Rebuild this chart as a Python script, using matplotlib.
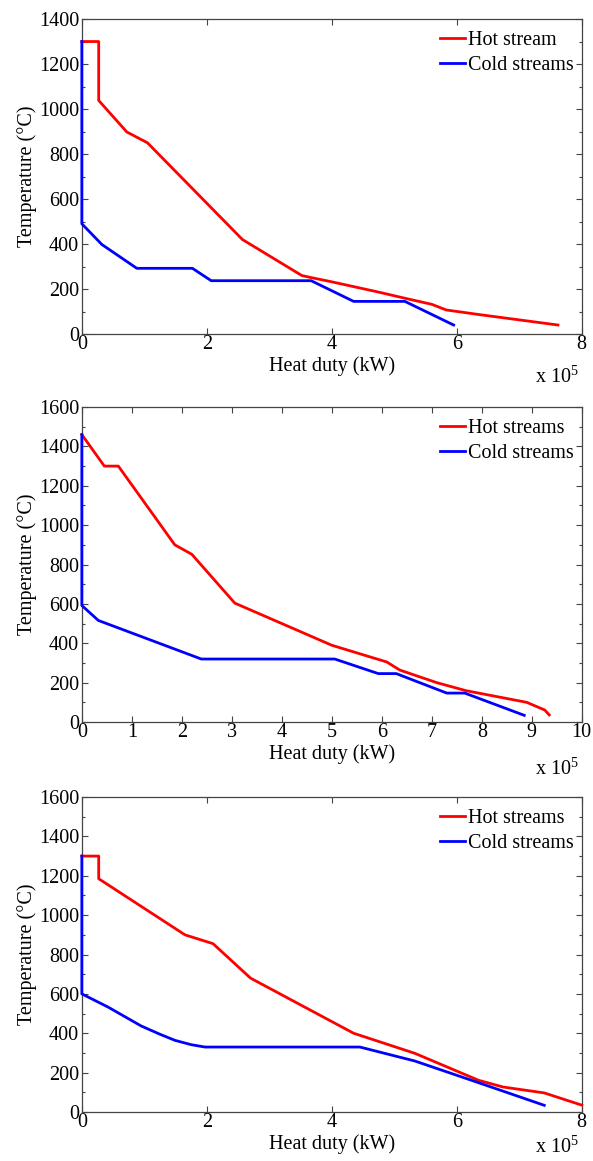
import matplotlib
matplotlib.use('Agg')
import matplotlib.pyplot as plt

plt.rcParams['font.family'] = ['Liberation Serif', 'DejaVu Serif']
plt.rcParams['mathtext.fontset'] = 'custom'
plt.rcParams['mathtext.rm'] = 'Liberation Serif'
plt.rcParams['mathtext.it'] = 'Liberation Serif'

# heat duty in units of 1e5 kW, temperature in degC
hot1_q = [0, 0.27, 0.27, 0.72, 1.05, 2.57, 3.52, 3.65, 4.0, 4.77, 5.17, 5.6, 5.83, 6.37, 7.62]
hot1_t = [1300, 1300, 1038, 898, 850, 420, 260, 252, 232, 185, 159, 132, 107, 86, 40]
cold1_q = [0, 0, 0.32, 0.88, 1.77, 2.07, 3.67, 4.35, 5.17, 5.95]
cold1_t = [1300, 490, 398, 292, 292, 237, 237, 145, 145, 40]

hot2_q = [0, 0.45, 0.73, 1.86, 2.2, 3.06, 5.0, 6.1, 6.36, 7.1, 7.69, 8.9, 9.26, 9.35]
hot2_t = [1460, 1300, 1300, 900, 852, 604, 390, 305, 264, 200, 159, 100, 61, 36]
cold2_q = [0, 0, 0.33, 2.39, 5.06, 5.93, 6.29, 7.3, 7.66, 8.85]
cold2_t = [1460, 592, 516, 320, 320, 246, 246, 147, 147, 34]

hot3_q = [0, 0.27, 0.27, 1.65, 2.1, 2.7, 4.35, 5.33, 6.35, 6.74, 7.4, 8.0]
hot3_t = [1300, 1300, 1185, 900, 855, 680, 400, 298, 161, 127, 97, 35]
cold3_q = [0, 0, 0.42, 0.95, 1.25, 1.49, 1.75, 1.97, 4.45, 5.33, 6.32, 7.4]
cold3_t = [1300, 600, 533, 437, 395, 364, 342, 330, 330, 259, 152, 34]

panels = [
    (hot1_q, hot1_t, cold1_q, cold1_t, 'Hot stream', 8, 2, 1400),
    (hot2_q, hot2_t, cold2_q, cold2_t, 'Hot streams', 10, 1, 1600),
    (hot3_q, hot3_t, cold3_q, cold3_t, 'Hot streams', 8, 2, 1600),
]
# axes boxes (left, bottom, width, height) in figure fractions
boxes = [
    (0.138, 0.7123, 0.843, 0.2713),
    (0.138, 0.3781, 0.843, 0.2713),
    (0.138, 0.0422, 0.843, 0.2713),
]
# where the "x 10^5" multiplier sits below each axes (axes fraction)
mult_y = [-0.104, -0.115, -0.078]

FS = 14.5

fig = plt.figure(figsize=(5.93, 11.61), dpi=100)

for (hq, ht, cq, ct, hot_label, xmax, xstep, ymax), box, my in zip(panels, boxes, mult_y):
    ax = fig.add_axes(box)
    ax.plot(hq, ht, color='#ff0000', lw=2.0, label=hot_label, clip_on=False, zorder=3)
    ax.plot(cq, ct, color='#0000ff', lw=2.0, label='Cold streams', clip_on=False, zorder=4)
    ax.set_xlim(0, xmax)
    ax.set_ylim(0, ymax)
    ax.set_xticks(range(0, xmax + 1, xstep))
    ax.set_yticks(range(0, ymax + 1, 200))
    ax.set_yticks(range(0, ymax + 1, 100), minor=True)
    ax.tick_params(which='both', direction='in', top=True, right=True,
                   labelsize=FS, color='#444444')
    ax.tick_params(which='major', length=4, width=0.8)
    ax.tick_params(which='minor', length=2.5, width=0.8)
    ax.tick_params(axis='x', pad=1)
    ax.tick_params(axis='y', pad=2)
    for s in ax.spines.values():
        s.set_color('#444444')
        s.set_linewidth(0.9)
    ax.set_xlabel('Heat duty (kW)', fontsize=FS, labelpad=1)
    ax.set_ylabel('Temperature (\u00b0C)', fontsize=FS, labelpad=1)
    ax.text(0.995, my, r'x 10$^5$', transform=ax.transAxes,
            ha='right', va='top', fontsize=FS)
    ax.legend(loc='upper right', bbox_to_anchor=(1.008, 1.0), frameon=False,
              fontsize=FS, handlelength=1.25, handletextpad=0.15,
              labelspacing=0.3, borderaxespad=0.4, borderpad=0.2)

fig.savefig('out.png', dpi=100)
